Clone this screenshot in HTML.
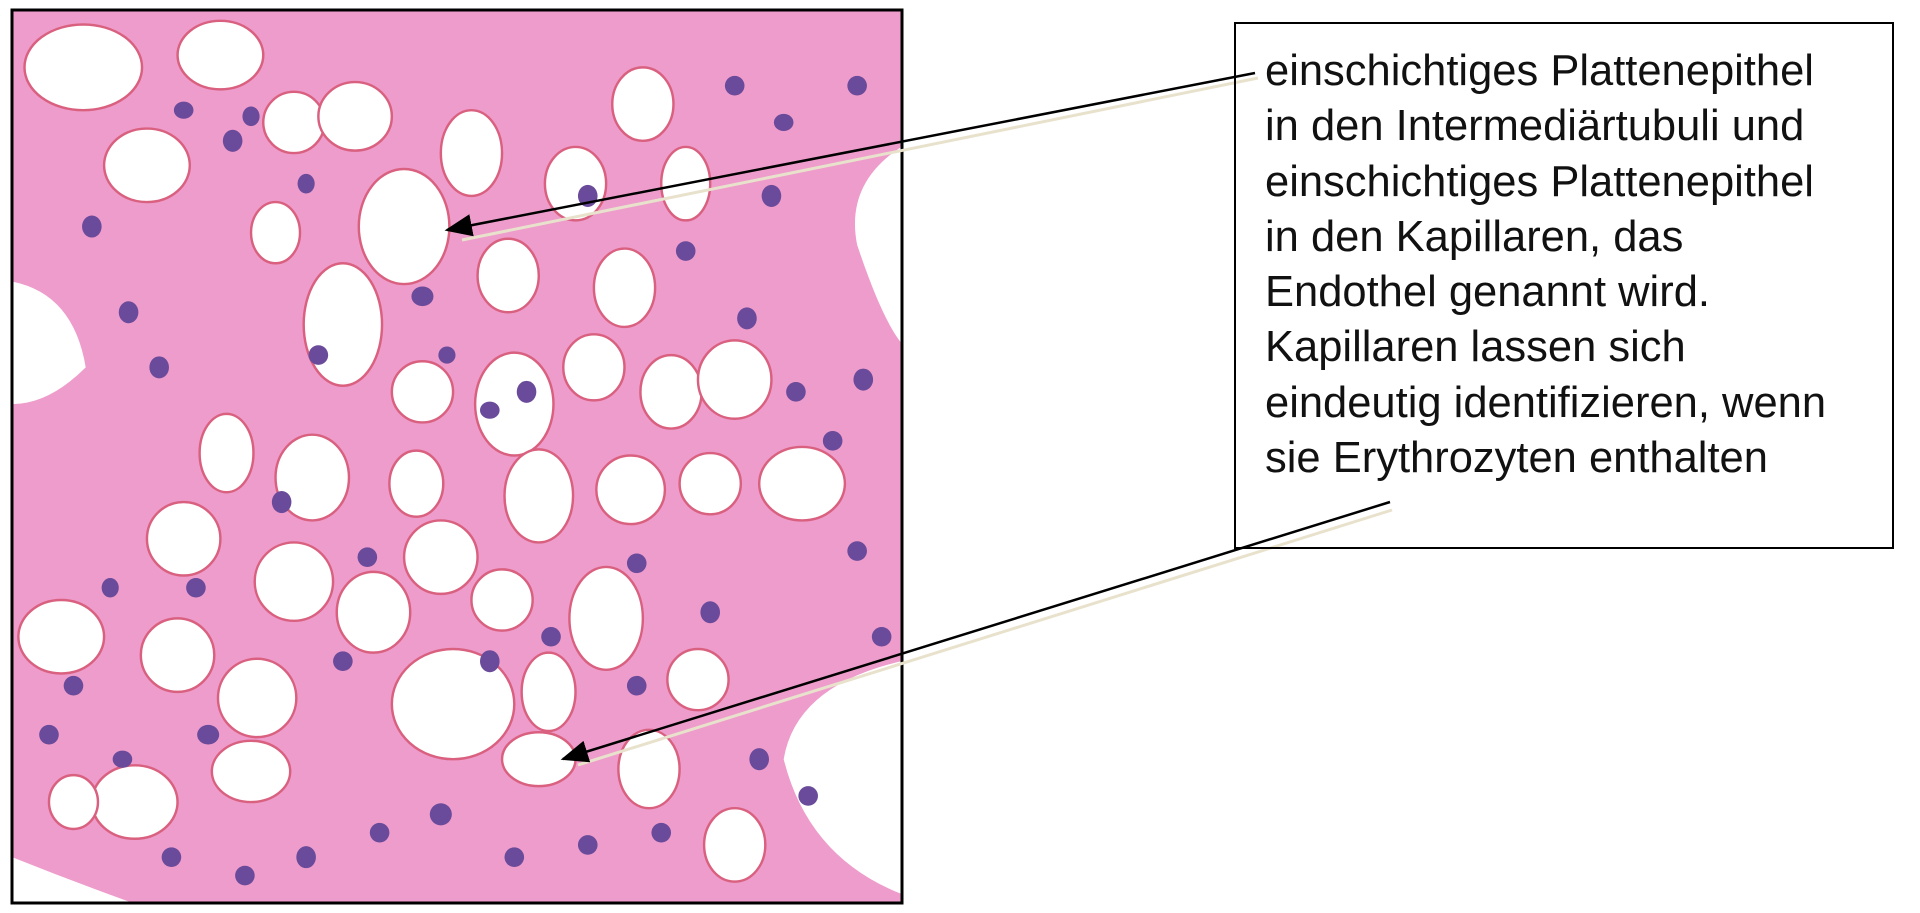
<!DOCTYPE html>
<html><head><meta charset="utf-8"><style>
html,body{margin:0;padding:0;background:#fff;width:1920px;height:913px;overflow:hidden}
.box{position:absolute;left:1234px;top:22px;width:660px;height:527px;border:2px solid #000;box-sizing:border-box}
.txt{position:absolute;left:1265px;top:44px;font-family:"Liberation Sans",sans-serif;font-size:43.5px;line-height:55.3px;color:#111;white-space:nowrap}
svg{position:absolute;left:0;top:0}
</style></head><body>
<svg width="1920" height="913" viewBox="0 0 1920 913">
<defs>
<clipPath id="c"><rect x="13" y="11" width="888" height="891"/></clipPath>
<marker id="ah" markerWidth="11" markerHeight="9" refX="10" refY="4.5" orient="auto" markerUnits="strokeWidth"><path d="M0,0 L11,4.5 L0,9 z" fill="#000"/></marker>
</defs>
<g clip-path="url(#c)">
<rect x="12" y="10" width="890" height="893" fill="#ee9ccb"/>
<g transform="scale(1.2245)" fill="#fff" stroke="#d9607f" stroke-width="2">
<path d="M10 230 Q60 240 70 300 Q40 330 10 330Z" stroke="none"/>
<path d="M736 120 Q690 150 700 200 Q720 260 736 280Z" stroke="none"/>
<path d="M736 540 Q650 560 640 620 Q660 700 736 730Z" stroke="none"/>
<path d="M10 700 Q60 720 110 738 L10 738Z" stroke="none"/>
<ellipse cx="68" cy="55" rx="48" ry="35"/><ellipse cx="180" cy="45" rx="35" ry="28"/>
<ellipse cx="120" cy="135" rx="35" ry="30"/><ellipse cx="240" cy="100" rx="25" ry="25"/>
<ellipse cx="290" cy="95" rx="30" ry="28"/><ellipse cx="385" cy="125" rx="25" ry="35"/>
<ellipse cx="330" cy="185" rx="37" ry="47"/><ellipse cx="280" cy="265" rx="32" ry="50"/>
<ellipse cx="225" cy="190" rx="20" ry="25"/><ellipse cx="415" cy="225" rx="25" ry="30"/>
<ellipse cx="510" cy="235" rx="25" ry="32"/><ellipse cx="470" cy="150" rx="25" ry="30"/>
<ellipse cx="525" cy="85" rx="25" ry="30"/><ellipse cx="560" cy="150" rx="20" ry="30"/>
<ellipse cx="345" cy="320" rx="25" ry="25"/><ellipse cx="420" cy="330" rx="32" ry="42"/>
<ellipse cx="485" cy="300" rx="25" ry="27"/><ellipse cx="548" cy="320" rx="25" ry="30"/>
<ellipse cx="600" cy="310" rx="30" ry="32"/><ellipse cx="655" cy="395" rx="35" ry="30"/>
<ellipse cx="580" cy="395" rx="25" ry="25"/><ellipse cx="515" cy="400" rx="28" ry="28"/>
<ellipse cx="440" cy="405" rx="28" ry="38"/><ellipse cx="255" cy="390" rx="30" ry="35"/>
<ellipse cx="185" cy="370" rx="22" ry="32"/><ellipse cx="340" cy="395" rx="22" ry="27"/>
<ellipse cx="150" cy="440" rx="30" ry="30"/><ellipse cx="360" cy="455" rx="30" ry="30"/>
<ellipse cx="240" cy="475" rx="32" ry="32"/><ellipse cx="305" cy="500" rx="30" ry="33"/>
<ellipse cx="410" cy="490" rx="25" ry="25"/><ellipse cx="495" cy="505" rx="30" ry="42"/>
<ellipse cx="145" cy="535" rx="30" ry="30"/><ellipse cx="50" cy="520" rx="35" ry="30"/>
<ellipse cx="210" cy="570" rx="32" ry="32"/><ellipse cx="370" cy="575" rx="50" ry="45"/>
<ellipse cx="448" cy="565" rx="22" ry="32"/><ellipse cx="570" cy="555" rx="25" ry="25"/>
<ellipse cx="205" cy="630" rx="32" ry="25"/><ellipse cx="110" cy="655" rx="35" ry="30"/>
<ellipse cx="60" cy="655" rx="20" ry="22"/><ellipse cx="530" cy="628" rx="25" ry="32"/>
<ellipse cx="440" cy="620" rx="30" ry="22"/><ellipse cx="600" cy="690" rx="25" ry="30"/>
</g>
<g transform="scale(1.2245)" fill="#6a4a9a">
<ellipse cx="75" cy="185" rx="8" ry="9"/><ellipse cx="105" cy="255" rx="8" ry="9"/><ellipse cx="130" cy="300" rx="8" ry="9"/>
<ellipse cx="150" cy="90" rx="8" ry="7"/><ellipse cx="205" cy="95" rx="7" ry="8"/><ellipse cx="190" cy="115" rx="8" ry="9"/>
<ellipse cx="250" cy="150" rx="7" ry="8"/><ellipse cx="345" cy="242" rx="9" ry="8"/><ellipse cx="365" cy="290" rx="7" ry="7"/>
<ellipse cx="430" cy="320" rx="8" ry="9"/><ellipse cx="400" cy="335" rx="8" ry="7"/><ellipse cx="480" cy="160" rx="8" ry="9"/>
<ellipse cx="560" cy="205" rx="8" ry="8"/><ellipse cx="610" cy="260" rx="8" ry="9"/><ellipse cx="630" cy="160" rx="8" ry="9"/>
<ellipse cx="600" cy="70" rx="8" ry="8"/><ellipse cx="700" cy="70" rx="8" ry="8"/><ellipse cx="640" cy="100" rx="8" ry="7"/>
<ellipse cx="705" cy="310" rx="8" ry="9"/><ellipse cx="680" cy="360" rx="8" ry="8"/><ellipse cx="650" cy="320" rx="8" ry="8"/>
<ellipse cx="260" cy="290" rx="8" ry="8"/><ellipse cx="300" cy="455" rx="8" ry="8"/><ellipse cx="230" cy="410" rx="8" ry="9"/>
<ellipse cx="160" cy="480" rx="8" ry="8"/><ellipse cx="90" cy="480" rx="7" ry="8"/><ellipse cx="60" cy="560" rx="8" ry="8"/>
<ellipse cx="100" cy="620" rx="8" ry="7"/><ellipse cx="170" cy="600" rx="9" ry="8"/><ellipse cx="280" cy="540" rx="8" ry="8"/>
<ellipse cx="400" cy="540" rx="8" ry="9"/><ellipse cx="450" cy="520" rx="8" ry="8"/><ellipse cx="520" cy="560" rx="8" ry="8"/>
<ellipse cx="580" cy="500" rx="8" ry="9"/><ellipse cx="620" cy="620" rx="8" ry="9"/><ellipse cx="660" cy="650" rx="8" ry="8"/>
<ellipse cx="250" cy="700" rx="8" ry="9"/><ellipse cx="310" cy="680" rx="8" ry="8"/><ellipse cx="360" cy="665" rx="9" ry="9"/>
<ellipse cx="420" cy="700" rx="8" ry="8"/><ellipse cx="480" cy="690" rx="8" ry="8"/><ellipse cx="540" cy="680" rx="8" ry="8"/>
<ellipse cx="200" cy="715" rx="8" ry="8"/><ellipse cx="140" cy="700" rx="8" ry="8"/><ellipse cx="40" cy="600" rx="8" ry="8"/>
<ellipse cx="700" cy="450" rx="8" ry="8"/><ellipse cx="720" cy="520" rx="8" ry="8"/><ellipse cx="520" cy="460" rx="8" ry="8"/>
</g>
</g>
<rect x="12" y="10" width="890" height="893" fill="none" stroke="#000" stroke-width="3"/>
<line x1="1258" y1="78" x2="462" y2="240" stroke="#e8e2cc" stroke-width="3"/>
<line x1="1255" y1="73" x2="447" y2="230" stroke="#000" stroke-width="2.5" marker-end="url(#ah)"/>
<line x1="1392" y1="510" x2="578" y2="765" stroke="#e8e2cc" stroke-width="3"/>
<line x1="1390" y1="502" x2="563" y2="759" stroke="#000" stroke-width="2.5" marker-end="url(#ah)"/>
</svg>
<div class="box"></div>
<div class="txt">einschichtiges Plattenepithel<br>in den Intermediärtubuli und<br>einschichtiges Plattenepithel<br>in den Kapillaren, das<br>Endothel genannt wird.<br>Kapillaren lassen sich<br>eindeutig identifizieren, wenn<br>sie Erythrozyten enthalten</div>
</body></html>
